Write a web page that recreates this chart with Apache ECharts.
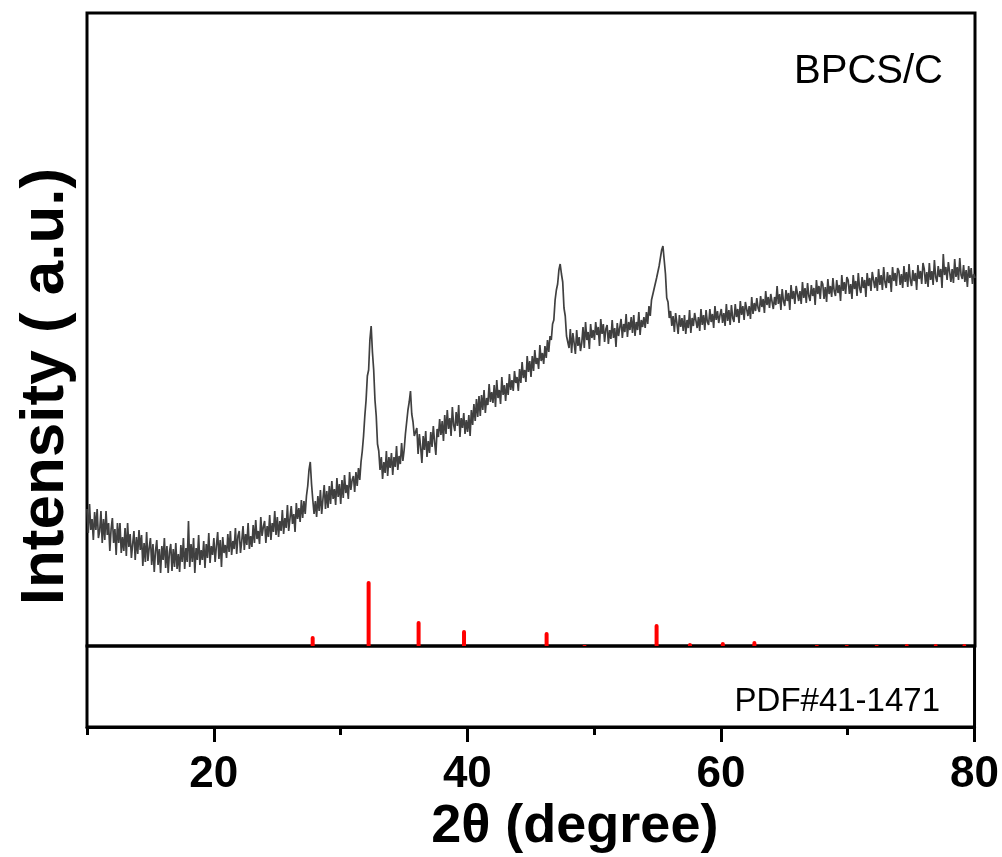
<!DOCTYPE html>
<html>
<head>
<meta charset="utf-8">
<script src="https://cdn.jsdelivr.net/npm/echarts@6/dist/echarts.min.js"></script>
<style>
html,body{margin:0;padding:0;background:#fff;}
#chart{width:1002px;height:857px;}
</style>
</head>
<body>
<div id="chart"></div>
<script>
// ---- data ----
const twoThetaStart = 10;
const twoThetaStep = 0.1;
// measured intensity (a.u.), one value every 0.1 degree from 10 to 80 (one row per degree)
const intensity = [
137,113,142,116,127,106,134,116,137,108,
115,135,103,127,106,135,111,123,95,117,
128,103,117,91,123,103,123,93,109,95,
118,90,123,99,112,88,102,115,86,109,
92,116,96,111,80,103,84,114,85,98,
108,81,102,74,95,106,81,97,73,100,
86,108,78,100,73,94,102,75,97,79,
103,77,92,74,101,84,108,77,98,84,
125,79,102,84,108,73,98,86,111,81,
96,86,105,78,102,88,113,83,100,91,
108,84,100,114,87,106,79,109,93,101,
88,112,94,115,91,105,97,118,92,110,
115,93,105,120,96,112,101,123,97,110,
99,121,103,126,107,115,102,129,110,119,
125,103,120,109,131,106,123,114,135,111,
129,109,125,115,136,112,128,118,141,115,
117,140,122,132,114,143,127,138,124,146,
128,145,132,150,160,176,184,162,146,132,
145,129,150,135,156,132,147,161,137,155,
138,160,142,165,147,157,141,168,149,162,
142,166,148,171,153,161,147,174,156,166,
170,154,174,160,178,166,184,195,210,230,
246,270,276,306,320,294,276,246,230,202,
195,176,189,167,184,173,195,170,189,178,
193,171,189,179,200,176,190,182,203,185,
196,212,214,236,244,255,232,224,210,209,
218,192,212,199,183,210,196,215,189,205,
193,214,199,220,204,191,217,209,227,211,
225,205,231,212,236,217,228,210,239,221,
215,234,220,241,209,228,218,233,212,226,
214,231,210,236,221,242,225,247,229,250,
230,251,236,256,233,248,241,262,244,254,
243,261,239,266,248,256,242,269,251,261,
245,263,251,272,256,266,255,275,263,269,
255,277,263,284,268,276,264,290,274,285,
269,290,275,296,282,288,277,301,285,293,
282,300,288,306,294,310,306,322,326,346,
356,362,376,382,372,364,338,330,310,308,
298,317,293,313,303,292,316,300,309,295,
303,319,298,324,306,314,297,322,308,316,
306,324,311,319,300,327,312,322,304,317,
321,302,316,307,326,308,318,299,323,310,
311,327,308,322,314,332,309,324,316,329,
313,331,310,324,316,334,311,326,319,329,
318,334,322,340,330,346,344,357,356,368,
366,380,382,396,400,386,372,348,344,328,
335,320,330,314,333,323,312,331,319,328,
315,331,312,326,318,336,313,328,320,333,
332,318,329,315,337,321,331,316,336,324,
321,337,324,332,318,340,326,335,323,331,
337,323,333,320,342,325,336,321,341,328,
324,342,329,337,323,345,331,340,326,344,
344,330,340,327,349,332,343,335,348,338,
334,350,339,347,333,355,341,349,338,352,
353,337,349,341,360,342,352,336,357,345,
340,356,345,353,336,361,347,355,342,360,
359,345,355,342,364,348,358,343,363,350,
345,361,350,358,341,366,352,360,347,365,
362,347,359,344,367,352,360,349,368,355,
350,366,353,361,345,371,355,364,352,369,
366,352,362,347,371,357,365,350,373,358,
353,369,358,366,349,373,360,368,355,374,
372,358,369,355,377,361,371,356,379,364,
358,374,363,371,354,379,365,373,360,378,
375,361,372,358,380,364,374,359,382,366,
360,376,365,373,356,381,367,375,362,383,
377,362,374,359,383,366,375,361,386,369,
364,380,369,377,358,392,371,379,366,384,
382,364,377,363,387,369,379,366,388,371,
367,381,364,376,359,380,368,378,362,372,
368
];
// reference pattern PDF#41-1471 : stick positions (2theta) and relative heights
const pdfPositions = [27.79, 32.2, 36.14, 39.72, 46.23, 49.22, 54.9, 57.53, 60.12, 62.61, 67.53, 69.89, 72.25, 74.62, 76.9, 79.16];
const pdfHeights   = [10, 65, 25, 16, 14, 1, 22, 3, 4, 5, 1, 1, 1, 2, 2, 2];
// axis ticks
const xMajorTicks = [20, 40, 60, 80];
const xMinorTicks = [10, 30, 50, 70];
const xMin = 10, xMax = 80;
const sampleLabel = 'BPCS/C';
const refLabel = 'PDF#41-1471';

// ---- build series data ----
const lineData = intensity.map((v, i) => [+(twoThetaStart + i * twoThetaStep).toFixed(2), v]);
const stickData = pdfPositions.map((p, i) => [p, pdfHeights[i]]);

const FONT = 'Liberation Sans, Arial, sans-serif';
const chart = echarts.init(document.getElementById('chart'), null, {renderer: 'canvas'});
chart.setOption({
  animation: false,
  backgroundColor: '#fff',
  title: [
    {text: sampleLabel, right: 54, top: 47,
     textStyle: {fontFamily: FONT, fontSize: 40, fontWeight: 'normal', color: '#000'}},
    {text: refLabel, right: 57, top: 680,
     textStyle: {fontFamily: FONT, fontSize: 33, fontWeight: 'normal', color: '#000'}}
  ],
  grid: [
    {left: 87, right: 27, top: 13, height: 633, show: true, borderColor: '#000', borderWidth: 3, backgroundColor: 'transparent'},
    {left: 87, right: 27, top: 646, height: 81, show: true, borderColor: '#000', borderWidth: 3, backgroundColor: 'transparent'}
  ],
  xAxis: [
    {gridIndex: 0, type: 'value', min: xMin, max: xMax, show: false},
    {gridIndex: 1, type: 'value', min: xMin, max: xMax, position: 'bottom',
     name: '2θ (degree)', nameLocation: 'middle', nameGap: 73,
     nameTextStyle: {fontFamily: FONT, fontSize: 54, fontWeight: 'bold', color: '#000', padding: [0, 0, 0, 88]},
     axisLine: {show: true, lineStyle: {color: '#000', width: 3}},
     axisTick: {show: true, length: 15, customValues: xMajorTicks, lineStyle: {color: '#000', width: 3}},
     axisLabel: {show: true, customValues: xMajorTicks, margin: 26,
       fontFamily: FONT, fontSize: 44, fontWeight: 'bold', color: '#000'},
     splitLine: {show: false}},
    {gridIndex: 1, type: 'value', min: xMin, max: xMax, position: 'bottom',
     axisLine: {show: false},
     axisTick: {show: true, length: 8, customValues: xMinorTicks, lineStyle: {color: '#000', width: 3}},
     axisLabel: {show: false},
     splitLine: {show: false}}
  ],
  yAxis: [
    {gridIndex: 0, type: 'value', min: 0, max: 633,
     name: 'Intensity ( a.u.)', nameLocation: 'middle', nameGap: 10,
     nameTextStyle: {fontFamily: FONT, fontSize: 62, fontWeight: 'bold', color: '#000', padding: [0, 114, 0, 0]},
     axisLine: {show: false}, axisTick: {show: false}, axisLabel: {show: false}, splitLine: {show: false}},
    {gridIndex: 1, type: 'value', min: 0, max: 1, show: false}
  ],
  series: [
    {type: 'line', name: sampleLabel, xAxisIndex: 0, yAxisIndex: 0, data: lineData,
     showSymbol: false, symbol: 'none', smooth: false, sampling: false,
     lineStyle: {color: '#404040', width: 1.7}, z: 3},
    {type: 'bar', name: refLabel, xAxisIndex: 0, yAxisIndex: 0, data: stickData,
     barWidth: 4, itemStyle: {color: '#ff0000', borderRadius: [2, 2, 0, 0]}, z: 2}
  ]
});
</script>
</body>
</html>
